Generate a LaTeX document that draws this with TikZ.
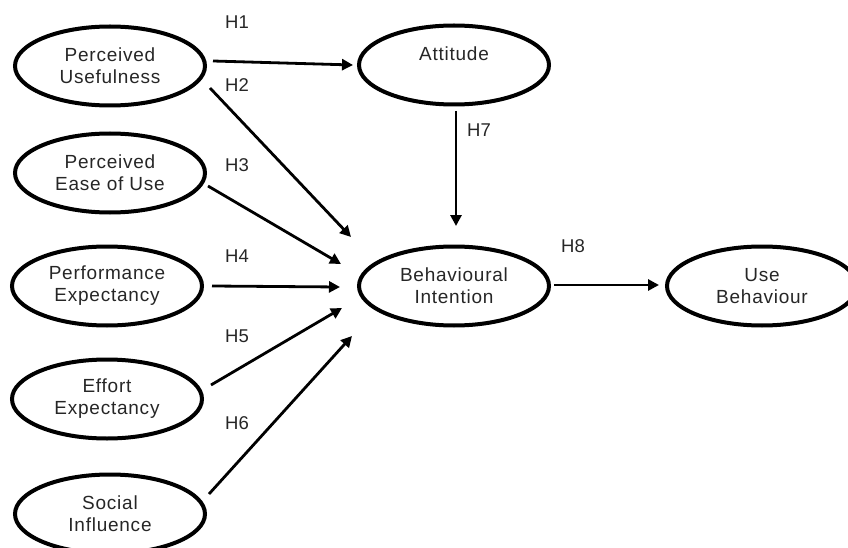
\documentclass[tikz,border=0pt]{standalone}
\usepackage{fontspec}
\setmainfont{Liberation Sans}
\usetikzlibrary{shapes.geometric,arrows.meta,calc}
\definecolor{txt}{HTML}{262626}
\tikzset{
  construct/.style={ellipse, draw=black, line width=4pt, minimum width=190pt, minimum height=79pt,
    inner sep=0pt, align=center, text=txt, font=\fontsize{19}{22}\selectfont\addfontfeature{LetterSpace=4}},
  arr/.style={line width=2.8pt, -{Triangle[length=11pt,width=11pt]}},
  hyp/.style={text=txt, font=\fontsize{18.5}{22}\selectfont, inner sep=0pt}
}
\begin{document}
\begin{tikzpicture}[x=1pt,y=-1pt]
\useasboundingbox (0,0) rectangle (848,548);
\node[construct] (pu) at (110,66) {Perceived\\Usefulness};
\node[construct] (peou) at (110,173) {Perceived\\Ease of Use};
\node[construct] (pe) at (107,286) {Performance\\Expectancy};
\node[construct] (ee) at (107,399) {Effort\\Expectancy};
\node[construct] (si) at (110,514) {Social\\Influence};
\node[construct] (att) at (454,65) {Attitude\\\mbox{}};
\node[construct] (bi) at (454,286) {Behavioural\\Intention};
\node[construct] (ub) at (762,286) {Use\\Behaviour};

\draw[arr] ($(pu.center)+(103,-5)$) -- ($(att.center)+(-101,0)$);
\draw[arr] ($(pu.center)+(100,22)$) -- ($(bi.center)+(-103,-49)$);
\draw[arr] ($(peou.center)+(98,13)$) -- ($(bi.center)+(-113,-22)$);
\draw[arr] ($(pe.center)+(105,0)$) -- ($(bi.center)+(-114,1)$);
\draw[arr] ($(ee.center)+(104,-14)$) -- ($(bi.center)+(-112,22)$);
\draw[arr] ($(si.center)+(99,-20)$) -- ($(bi.center)+(-102,50)$);
\draw[arr] ($(att.center)+(2,46)$) -- ($(bi.center)+(2,-60)$);
\draw[arr] ($(bi.center)+(100,-1)$) -- ($(ub.center)+(-103,-1)$);

\node[hyp] (h1) at (237,22) {H1};
\node[hyp] (h2) at (237,85) {H2};
\node[hyp] (h3) at (237,165) {H3};
\node[hyp] (h4) at (237,256) {H4};
\node[hyp] (h5) at (237,336) {H5};
\node[hyp] (h6) at (237,423) {H6};
\node[hyp] (h7) at (479,130) {H7};
\node[hyp] (h8) at (573,246) {H8};
\end{tikzpicture}
\end{document}
